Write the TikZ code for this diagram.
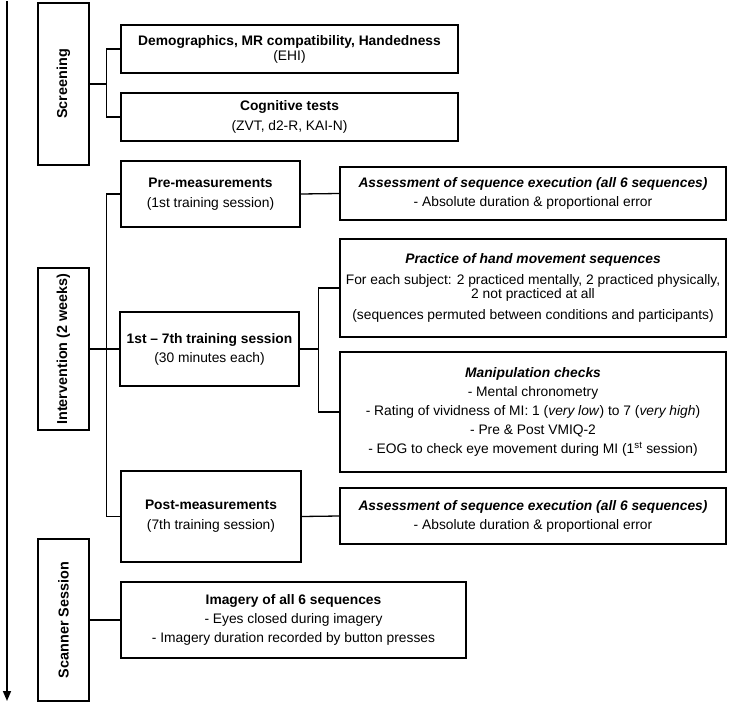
\documentclass[tikz,border=0pt]{standalone}
\usepackage{fontspec}
\setmainfont{Liberation Sans}
\usepackage{graphicx}
\usetikzlibrary{arrows.meta}

\begin{document}
\begin{tikzpicture}[
		x=1pt, y=-1pt,
		every node/.style={
			font=\fontsize{13.8}{16}\selectfont,
			align=center,
			inner sep=1pt,
		},
		item/.style={
			draw,
			line width=1.3pt,
		},
		phase/.style={
			draw,
			line width=2.8pt,
			minimum width=51pt,
			minimum height=162pt,
			font=\fontsize{14.4}{16}\selectfont,
		},
		link/.style={
			line width=1.3pt,
		},
		timeline/.style={
			line width=1.6pt,
			-{Triangle[length=10pt,width=8pt]},
		},
	]
		\useasboundingbox (0,0) rectangle (729,704);

		% time axis
		\coordinate (start) at (7,1);
		\coordinate (stop) at (7,701);
		\draw[timeline] (start) -- (stop);

		% phases
		\node[phase] (screen) at (63.5,84) {\rotatebox{90}{\textbf{Screening}}};
		\node[phase] (interv) at (63.5,349) {\rotatebox{90}{\textbf{Intervention (2 weeks)}}};
		\node[phase] (scan) at (63.5,620) {\rotatebox{90}{\textbf{Scanner Session}}};

		% screening
		\node[item, minimum width=337pt, minimum height=48pt] (demo) at (289.5,49)
			{\textbf{Demographics, MR compatibility, Handedness}\\[-1pt](EHI)};
		\node[item, minimum width=337pt, minimum height=48pt] (cogn) at (289.5,117)
			{\textbf{Cognitive tests}\\[4pt](ZVT, d2-R, KAI-N)};

		% intervention
		\node[item, minimum width=179pt, minimum height=66pt] (pre) at (210.5,194)
			{\textbf{Pre-measurements}\\[4pt](1st training session)};
		\node[item, minimum width=179pt, minimum height=74pt] (train) at (209.5,349)
			{\textbf{1st -- 7th training session}\\[3pt](30 minutes each)};
		\node[item, minimum width=180pt, minimum height=91pt] (post) at (211,516.5)
			{\textbf{Post-measurements}\\[4pt](7th training session)};

		\node[item, minimum width=386pt, minimum height=53pt] (assess1) at (533,193.5)
			{\textbf{\textit{Assessment of sequence execution (all 6 sequences)}}\\[3pt]- Absolute duration \& proportional error};
		\node[item, minimum width=386pt, minimum height=98pt] (practice) at (533,288)
			{\textbf{\textit{Practice of hand movement sequences}}\\[5pt]For each subject: 2 practiced mentally, 2 practiced physically,\\[-2pt]2 not practiced at all\\[5pt](sequences permuted between conditions and participants)};
		\node[item, minimum width=386pt, minimum height=120pt] (manip) at (533,412)
			{\textbf{\textit{Manipulation checks}}\\[3pt]- Mental chronometry\\[3pt]- Rating of vividness of MI: 1 (\textit{very low}) to 7 (\textit{very high})\\[3pt]- Pre \& Post VMIQ-2\\[3pt]- EOG to check eye movement during MI (1\textsuperscript{st} session)};
		\node[item, minimum width=386pt, minimum height=56pt] (assess2) at (533,516)
			{\textbf{\textit{Assessment of sequence execution (all 6 sequences)}}\\[3pt]- Absolute duration \& proportional error};

		% scanner
		\node[item, minimum width=345pt, minimum height=76pt] (imag) at (293.5,620)
			{\textbf{Imagery of all 6 sequences}\\[3pt]- Eyes closed during imagery\\[3pt]- Imagery duration recorded by button presses};

		% connectors
		\draw[link] (screen.east) -- +(16,0) coordinate (sfork);
		\draw[link] (demo.west) -| (sfork) |- (cogn.west);
		\draw[link] (interv.east) -- +(16,0) coordinate (ifork);
		\draw[link] (pre.west) -| (ifork) |- (post.west);
		\draw[link] (ifork) -- (train.west);
		\draw[link] (train.east) -- +(19,0) coordinate (tfork);
		\draw[link] (practice.west) -| (tfork) |- (manip.west);
		\draw[link] (pre.east) -- (assess1.west);
		\draw[link] (post.east) -- (assess2.west);
		\draw[link] (scan.east) -- (imag.west);
\end{tikzpicture}
\end{document}
